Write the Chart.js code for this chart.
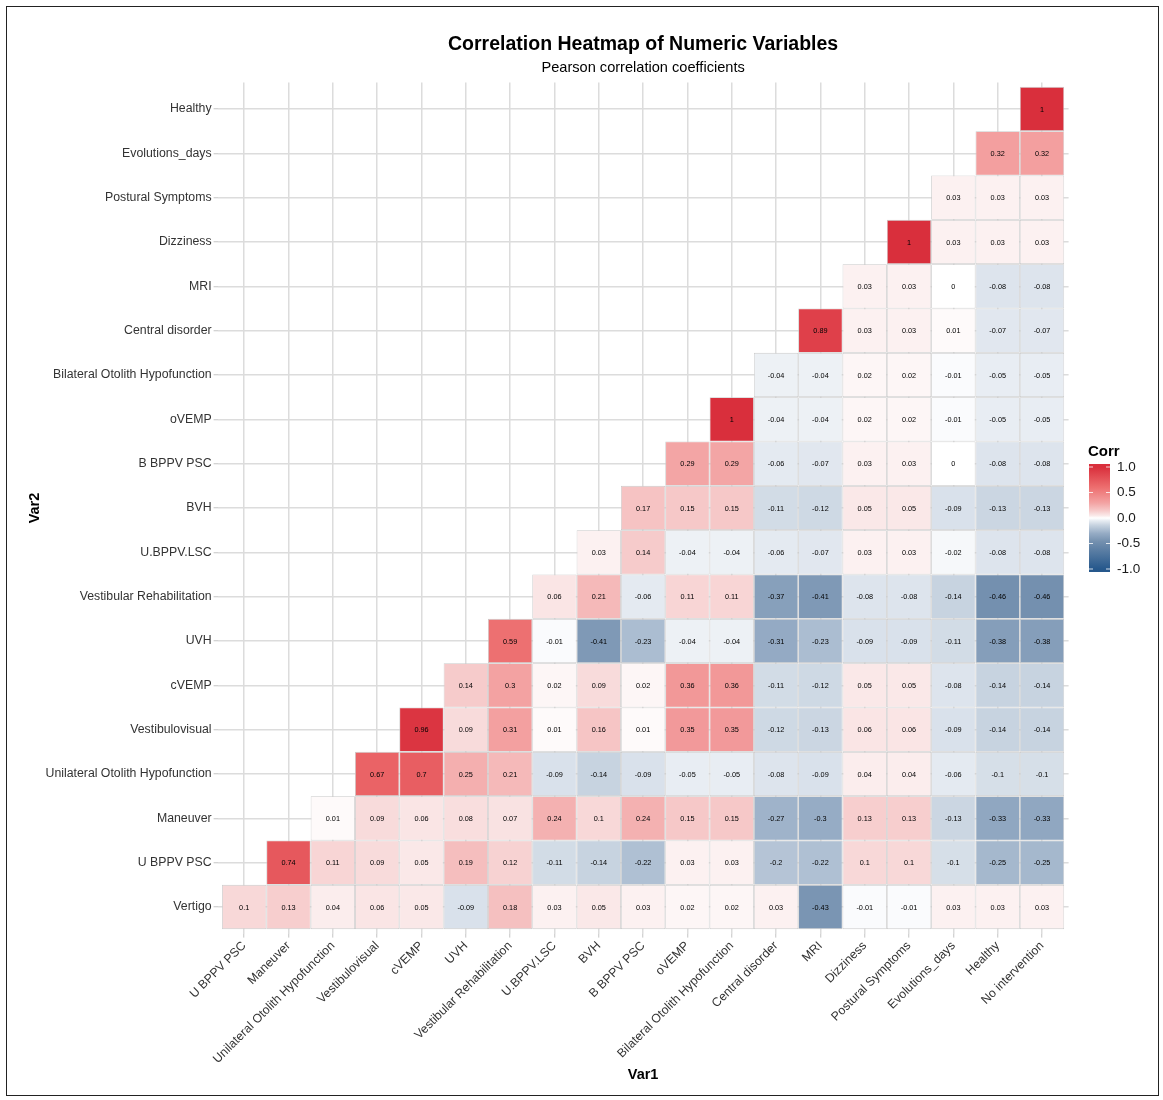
<!DOCTYPE html>
<html>
<head>
<meta charset="utf-8">
<script src="https://cdn.jsdelivr.net/npm/chart.js@4.4.1/dist/chart.umd.min.js"></script>
<style>
  html, body { margin: 0; padding: 0; background: #fff; }
  #wrap { position: relative; width: 1163px; height: 1100px; }
  #c { position: absolute; left: 0; top: 0; }
  #frame { position: absolute; left: 6px; top: 6px; width: 1151px; height: 1088px; border: 1px solid #222; pointer-events: none; }
</style>
</head>
<body>
<div id="wrap">
  <canvas id="c" width="1163" height="1100"></canvas>
  <div id="frame"></div>
</div>
<script>
// ---------------- DATA ----------------
const titleText = "Correlation Heatmap of Numeric Variables";
const subtitleText = "Pearson correlation coefficients";
const xTitle = "Var1";
const yTitle = "Var2";
const legendTitle = "Corr";

// Var1 (columns, left to right)
const var1Labels = ["U BPPV PSC", "Maneuver", "Unilateral Otolith Hypofunction", "Vestibulovisual", "cVEMP", "UVH",
  "Vestibular Rehabilitation", "U.BPPV.LSC", "BVH", "B BPPV PSC", "oVEMP", "Bilateral Otolith Hypofunction",
  "Central disorder", "MRI", "Dizziness", "Postural Symptoms", "Evolutions_days", "Healthy", "No intervention"];

// Var2 (rows, bottom to top)
const var2Labels = ["Vertigo", "U BPPV PSC", "Maneuver", "Unilateral Otolith Hypofunction", "Vestibulovisual", "cVEMP",
  "UVH", "Vestibular Rehabilitation", "U.BPPV.LSC", "BVH", "B BPPV PSC", "oVEMP", "Bilateral Otolith Hypofunction",
  "Central disorder", "MRI", "Dizziness", "Postural Symptoms", "Evolutions_days", "Healthy"];

// Each row lists its values starting at the diagonal column (column index = row index) to the right edge.
const rowVertigo        = [0.1, 0.13, 0.04, 0.06, 0.05, -0.09, 0.18, 0.03, 0.05, 0.03, 0.02, 0.02, 0.03, -0.43, -0.01, -0.01, 0.03, 0.03, 0.03];
const rowUBPPVPSC       = [0.74, 0.11, 0.09, 0.05, 0.19, 0.12, -0.11, -0.14, -0.22, 0.03, 0.03, -0.2, -0.22, 0.1, 0.1, -0.1, -0.25, -0.25];
const rowManeuver       = [0.01, 0.09, 0.06, 0.08, 0.07, 0.24, 0.1, 0.24, 0.15, 0.15, -0.27, -0.3, 0.13, 0.13, -0.13, -0.33, -0.33];
const rowUnilatOtolith  = [0.67, 0.7, 0.25, 0.21, -0.09, -0.14, -0.09, -0.05, -0.05, -0.08, -0.09, 0.04, 0.04, -0.06, -0.1, -0.1];
const rowVestibulovisual= [0.96, 0.09, 0.31, 0.01, 0.16, 0.01, 0.35, 0.35, -0.12, -0.13, 0.06, 0.06, -0.09, -0.14, -0.14];
const rowCVEMP          = [0.14, 0.3, 0.02, 0.09, 0.02, 0.36, 0.36, -0.11, -0.12, 0.05, 0.05, -0.08, -0.14, -0.14];
const rowUVH            = [0.59, -0.01, -0.41, -0.23, -0.04, -0.04, -0.31, -0.23, -0.09, -0.09, -0.11, -0.38, -0.38];
const rowVestRehab      = [0.06, 0.21, -0.06, 0.11, 0.11, -0.37, -0.41, -0.08, -0.08, -0.14, -0.46, -0.46];
const rowUBPPVLSC       = [0.03, 0.14, -0.04, -0.04, -0.06, -0.07, 0.03, 0.03, -0.02, -0.08, -0.08];
const rowBVH            = [0.17, 0.15, 0.15, -0.11, -0.12, 0.05, 0.05, -0.09, -0.13, -0.13];
const rowBBPPVPSC       = [0.29, 0.29, -0.06, -0.07, 0.03, 0.03, 0, -0.08, -0.08];
const rowOVEMP          = [1, -0.04, -0.04, 0.02, 0.02, -0.01, -0.05, -0.05];
const rowBilatOtolith   = [-0.04, -0.04, 0.02, 0.02, -0.01, -0.05, -0.05];
const rowCentral        = [0.89, 0.03, 0.03, 0.01, -0.07, -0.07];
const rowMRI            = [0.03, 0.03, 0, -0.08, -0.08];
const rowDizziness      = [1, 0.03, 0.03, 0.03];
const rowPostural       = [0.03, 0.03, 0.03];
const rowEvolutions     = [0.32, 0.32];
const rowHealthy        = [1];

const rowValues = [rowVertigo, rowUBPPVPSC, rowManeuver, rowUnilatOtolith, rowVestibulovisual, rowCVEMP, rowUVH,
  rowVestRehab, rowUBPPVLSC, rowBVH, rowBBPPVPSC, rowOVEMP, rowBilatOtolith, rowCentral, rowMRI, rowDizziness,
  rowPostural, rowEvolutions, rowHealthy];

const legendTicks = [1.0, 0.5, 0.0, -0.5, -1.0];

// ---------------- COLOUR SCALE ----------------
const colorStops = [
  [-1.00, [38, 88, 140]],
  [-0.46, [116, 144, 175]],
  [-0.30, [150, 172, 197]],
  [-0.14, [199, 211, 224]],
  [-0.05, [232, 237, 243]],
  [ 0.00, [255, 255, 255]],
  [ 0.05, [250, 232, 232]],
  [ 0.15, [246, 200, 200]],
  [ 0.30, [243, 162, 162]],
  [ 0.60, [237, 110, 111]],
  [ 1.00, [217, 47, 60]]
];
function corrColor(v) {
  v = Math.max(-1, Math.min(1, v));
  for (let i = 0; i < colorStops.length - 1; i++) {
    const [a, ca] = colorStops[i], [b, cb] = colorStops[i + 1];
    if (v >= a && v <= b) {
      const t = (v - a) / (b - a);
      const c = ca.map((x, k) => Math.round(x + (cb[k] - x) * t));
      return `rgb(${c[0]},${c[1]},${c[2]})`;
    }
  }
  return 'rgb(255,255,255)';
}

// ---------------- BUILD CELLS ----------------
const cells = [];
rowValues.forEach((vals, r) => {
  vals.forEach((v, k) => {
    const c = r + k;
    cells.push({ x: c, y: [r - 0.5, r + 0.5], v: v });
  });
});

const FONT = '"Liberation Sans", Arial, Helvetica, sans-serif';

const cellTextPlugin = {
  id: 'cellText',
  afterDatasetsDraw(chart) {
    const ctx = chart.ctx;
    const meta = chart.getDatasetMeta(0);
    const ds = chart.data.datasets[0];
    ctx.save();
    ctx.font = '7.3px ' + FONT;
    ctx.fillStyle = '#000';
    ctx.textAlign = 'center';
    ctx.textBaseline = 'middle';
    meta.data.forEach((el, i) => {
      const p = el.getProps(['x', 'y', 'base'], true);
      ctx.fillText(String(ds.data[i].v), p.x, (p.y + p.base) / 2 + 0.5);
    });
    ctx.restore();
  }
};

const decorPlugin = {
  id: 'decor',
  afterDraw(chart) {
    const ctx = chart.ctx;
    const ca = chart.chartArea;
    const cx = (ca.left + ca.right) / 2;
    ctx.save();
    ctx.fillStyle = '#000';
    ctx.textAlign = 'center';
    ctx.textBaseline = 'middle';
    ctx.font = 'bold 19.5px ' + FONT;
    ctx.fillText(titleText, cx, 45);
    ctx.font = '14.6px ' + FONT;
    ctx.fillText(subtitleText, cx, 68);

    // colour bar legend
    const barX = 1089, barW = 21, barTop = 464, barBottom = 572;
    const tTop = 467, tBottom = 569;
    const grad = ctx.createLinearGradient(0, tTop, 0, tBottom);
    colorStops.forEach(([v]) => {
      grad.addColorStop((1 - v) / 2, corrColor(v));
    });
    ctx.fillStyle = corrColor(1);
    ctx.fillRect(barX, barTop, barW, tTop - barTop);
    ctx.fillStyle = corrColor(-1);
    ctx.fillRect(barX, tBottom, barW, barBottom - tBottom);
    ctx.fillStyle = grad;
    ctx.fillRect(barX, tTop, barW, tBottom - tTop);

    ctx.font = 'bold 15px ' + FONT;
    ctx.fillStyle = '#000';
    ctx.textAlign = 'left';
    ctx.fillText(legendTitle, barX - 1, 452);

    ctx.font = '13.5px ' + FONT;
    legendTicks.forEach(v => {
      const y = tTop + (1 - v) / 2 * (tBottom - tTop);
      ctx.strokeStyle = 'rgba(255,255,255,0.8)';
      ctx.lineWidth = 1;
      ctx.beginPath();
      ctx.moveTo(barX, y); ctx.lineTo(barX + 4, y);
      ctx.moveTo(barX + barW - 4, y); ctx.lineTo(barX + barW, y);
      ctx.stroke();
      ctx.fillStyle = '#1a1a1a';
      ctx.fillText(v.toFixed(1), barX + 28, y);
    });
    ctx.restore();
  }
};

const gridColor = '#dcdcdc';
const tickColor = '#c4c4c4';

new Chart(document.getElementById('c'), {
  type: 'bar',
  data: {
    datasets: [{
      label: 'Corr',
      data: cells,
      backgroundColor: cells.map(d => corrColor(d.v)),
      borderColor: '#cacaca',
      borderWidth: 0.8,
      borderSkipped: false,
      barPercentage: 1,
      categoryPercentage: 1,
      grouped: false,
      inflateAmount: 0
    }]
  },
  options: {
    responsive: false,
    animation: false,
    devicePixelRatio: 1,
    layout: { padding: { left: 0, right: 94.4, top: 82.4, bottom: 0 } },
    plugins: { legend: { display: false }, tooltip: { enabled: false } },
    scales: {
      x: {
        type: 'linear',
        position: 'bottom',
        min: -0.6, max: 18.6,
        offset: false,
        afterBuildTicks: s => { s.ticks = var1Labels.map((_, i) => ({ value: i })); },
        afterFit: s => { s.height = 166.4; },
        ticks: {
          autoSkip: false,
          minRotation: 45, maxRotation: 45,
          padding: 1,
          color: '#333',
          font: { family: FONT, size: 12.3 },
          callback: v => var1Labels[v]
        },
        grid: { offset: false, color: gridColor, lineWidth: 1.5, drawTicks: true, tickLength: 4, tickColor: tickColor, tickWidth: 1 },
        border: { display: false },
        title: { display: true, text: xTitle, color: '#000', font: { family: FONT, size: 14.5, weight: 'bold' }, padding: { top: 0, bottom: 16.6 } }
      },
      y: {
        type: 'linear',
        min: -0.6, max: 18.6,
        beginAtZero: false,
        afterBuildTicks: s => { s.ticks = var2Labels.map((_, i) => ({ value: i })); },
        afterFit: s => { s.width = 217.6; },
        ticks: {
          autoSkip: false,
          padding: 2,
          color: '#333',
          font: { family: FONT, size: 12.3 },
          callback: v => var2Labels[v]
        },
        grid: { color: gridColor, lineWidth: 1.5, drawTicks: true, tickLength: 4, tickColor: tickColor, tickWidth: 1 },
        border: { display: false },
        title: { display: true, text: yTitle, color: '#000', font: { family: FONT, size: 14.5, weight: 'bold' }, padding: { top: 26.3, bottom: 0 } }
      }
    }
  },
  plugins: [cellTextPlugin, decorPlugin]
});
</script>
</body>
</html>
